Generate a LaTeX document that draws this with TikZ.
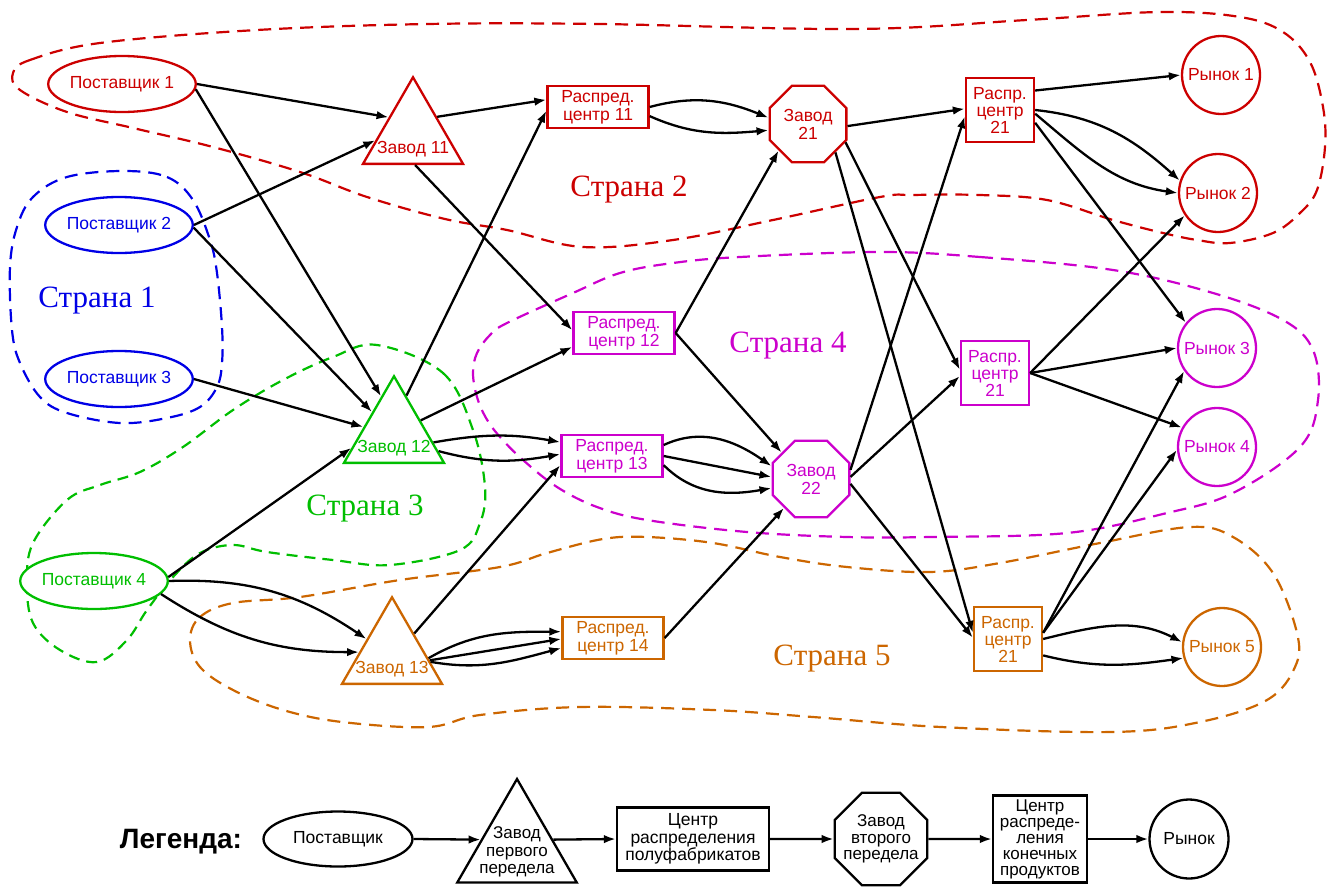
\documentclass[tikz,border=0pt]{standalone}
\usepackage{fontspec}
\setmainfont{Liberation Sans}
\newfontfamily\cserif{Liberation Serif}
\usetikzlibrary{shapes.geometric,arrows.meta}
\definecolor{cred}{RGB}{204,0,0}
\definecolor{cblue}{RGB}{0,0,230}
\definecolor{cgreen}{RGB}{0,190,0}
\definecolor{cmag}{RGB}{204,0,204}
\definecolor{corange}{RGB}{204,102,0}
\begin{document}
\begin{tikzpicture}[x=1pt,y=1pt,
  every node/.style={font=\fontsize{17.5}{18}\selectfont, line width=2.3pt, inner sep=0pt},
  supp/.style={ellipse, draw, fill=white, minimum width=128pt, minimum height=56pt},
  tri/.style={regular polygon, regular polygon sides=3, draw, fill=white, minimum size=115.5pt},
  oct/.style={regular polygon, regular polygon sides=8, draw, fill=white, minimum size=83pt, align=center},
  dc/.style={rectangle, draw, fill=white, minimum width=101pt, minimum height=42pt, align=center},
  fdc/.style={rectangle, draw, fill=white, minimum width=68pt, minimum height=64pt, align=center, font=\fontsize{17.5}{17}\selectfont},
  mkt/.style={circle, draw, fill=white, minimum size=78pt},
  link/.style={draw=black, line width=2.3pt, -{Latex[length=12pt,width=8.5pt]}},
  region/.style={line width=2.2pt, dash pattern=on 13pt off 8pt},
  country/.style={font=\cserif\fontsize{31}{31}\selectfont, anchor=base},
]
\useasboundingbox (0,0) rectangle (1335,-886);

% ---- country regions
\draw[region, draw=cred] plot[smooth cycle, tension=0.6] coordinates {
 (13,-73) (30,-60) (100,-43) (257,-30) (428,-24) (599,-24) (856,-29) (1027,-20) (1160,-12) (1240,-17) (1283,-32) (1310,-62) (1323,-107) (1325,-147) (1317,-190) (1300,-213) (1273,-233) (1230,-243) (1197,-240) (1163,-233) (1113,-220) (1047,-200) (980,-195) (913,-195) (880,-197) (773,-220) (673,-240) (583,-247) (507,-230) (445,-219) (367,-197) (300,-172) (213,-147) (133,-128) (67,-112) (20,-90)};
\draw[region, draw=cblue] plot[smooth cycle, tension=0.6] coordinates {
 (123,-171) (167,-177) (193,-200) (210,-240) (217,-273) (222,-327) (222,-363) (217,-387) (200,-407) (167,-418) (120,-423) (67,-413) (40,-397) (20,-363) (12,-330) (10,-267) (17,-227) (33,-197) (67,-177)};
\draw[region, draw=cgreen, dash pattern=on 11pt off 7pt] plot[smooth cycle, tension=0.6] coordinates {
 (377,-345) (443,-373) (473,-430) (485,-487) (480,-523) (460,-550) (390,-565) (333,-560) (267,-552) (233,-545) (200,-553) (173,-577) (147,-610) (127,-640) (97,-662) (60,-650) (33,-623) (27,-583) (33,-543) (67,-500) (100,-485) (140,-472) (183,-447) (233,-410) (283,-380) (333,-357)};
\draw[region, draw=cmag] plot[smooth cycle, tension=0.6] coordinates {
 (880,-252) (980,-257) (1113,-270) (1213,-293) (1283,-320) (1313,-350) (1318,-400) (1300,-447) (1233,-493) (1167,-513) (1067,-533) (930,-537) (847,-537) (747,-532) (647,-520) (597,-507) (557,-487) (523,-460) (500,-437) (486,-418) (477,-397) (473,-373) (477,-353) (490,-335) (507,-323) (573,-293) (620,-273) (673,-263) (740,-257)};
\draw[region, draw=corange] plot[smooth cycle, tension=0.6] coordinates {
 (190,-640) (200,-617) (233,-603) (300,-597) (400,-580) (500,-567) (547,-553) (603,-539) (647,-537) (713,-543) (780,-557) (847,-567) (930,-572) (1000,-563) (1100,-543) (1190,-527) (1233,-537) (1273,-573) (1297,-633) (1295,-667) (1267,-700) (1200,-722) (1112,-732) (941,-727) (813,-717) (713,-710) (580,-707) (480,-715) (428,-727) (342,-722) (283,-710) (233,-690) (200,-667)};

% ---- country labels
\node[country, text=cblue] (C1) at (97,-307) {Страна 1};
\node[country, text=cred] (C2) at (629,-196) {Страна 2};
\node[country, text=cgreen] (C3) at (365,-515) {Страна 3};
\node[country, text=cmag] (C4) at (788,-352) {Страна 4};
\node[country, text=corange] (C5) at (832,-665) {Страна 5};

% ---- suppliers
\node[supp, draw=cred, text=cred] (P1) at (122,-84) {Поставщик 1};
\node[supp, draw=cblue, text=cblue] (P2) at (119,-225) {Поставщик 2};
\node[supp, draw=cblue, text=cblue] (P3) at (119,-379) {Поставщик 3};
\node[supp, draw=cgreen, text=cgreen] (P4) at (94,-581) {Поставщик 4};

% ---- first-stage plants
\node[tri, draw=cred] (Z11) at (413,-135) {};
\node[text=cred] (Z11t) at (413,-149) {Завод 11};
\node[tri, draw=cgreen] (Z12) at (394,-434) {};
\node[text=cgreen] (Z12t) at (394,-448) {Завод 12};
\node[tri, draw=corange] (Z13) at (392,-655) {};
\node[text=corange] (Z13t) at (392,-669) {Завод 13};

% ---- semi-product distribution centres
\node[dc, draw=cred, text=cred] (R11) at (598,-107) {Распред.\\центр 11};
\node[dc, draw=cmag, text=cmag] (R12) at (624,-333) {Распред.\\центр 12};
\node[dc, draw=cmag, text=cmag] (R13) at (612,-456) {Распред.\\центр 13};
\node[dc, draw=corange, text=corange] (R14) at (613,-638) {Распред.\\центр 14};

% ---- second-stage plants
\node[oct, draw=cred, text=cred] (Z21) at (808,-124) {Завод\\21};
\node[oct, draw=cmag, text=cmag] (Z22) at (811,-479) {Завод\\22};

% ---- final distribution centres
\node[fdc, draw=cred, text=cred] (D21a) at (1000,-110) {Распр.\\центр\\21};
\node[fdc, draw=cmag, text=cmag] (D21b) at (995,-373) {Распр.\\центр\\21};
\node[fdc, draw=corange, text=corange] (D21c) at (1008,-639) {Распр.\\центр\\21};

% ---- markets
\node[mkt, draw=cred, text=cred] (M1) at (1221,-75) {Рынок 1};
\node[mkt, draw=cred, text=cred] (M2) at (1218,-193) {Рынок 2};
\node[mkt, draw=cmag, text=cmag] (M3) at (1217,-348) {Рынок 3};
\node[mkt, draw=cmag, text=cmag] (M4) at (1217,-447) {Рынок 4};
\node[mkt, draw=corange, text=corange] (M5) at (1222,-647) {Рынок 5};

% ---- connectors
\draw[link] (P1.east) -- (Z11.144);
\draw[link] (P1.-4) -- (Z12.109);
\draw[link] (P2.east) -- (Z11.188);
\draw[link] (P2.-2) -- (Z12.135);
\draw[link] (P3.east) -- (Z12.167);
\draw[link] (P4.3) -- (Z12.198);
\draw[link] (P4.east) to[out=2,in=146] (Z13.148);
\draw[link] (P4.-11) to[out=-33,in=180] (Z13.175);
\draw[link] (Z11.37) -- (R11.172);
\draw[link] (Z11.-86) -- (R12.177);
\draw[link] (Z12.72) -- (R11.184);
\draw[link] (Z12.27) -- (R12.195);
\draw[link] (Z12.-12) to[out=10,in=170] (R13.165);
\draw[link] (Z12.-21) to[out=-15,in=190] (R13.178);
\draw[link] (Z13.44) -- (R13.190);
\draw[link] (Z13.-5) to[out=30,in=180] (R14.173);
\draw[link] (Z13.-8) -- (R14.181);
\draw[link] (Z13.-10) to[out=-10,in=195] (R14.191);
\draw[link] (R11.east) to[out=15,in=158] (Z21.171);
\draw[link] (R11.-10) to[out=-24,in=185] (Z21.189);
\draw[link] (R12.east) -- (Z21.222);
\draw[link] (R12.east) -- (Z22.138);
\draw[link] (R13.12) to[out=25,in=145] (Z22.162);
\draw[link] (R13.east) -- (Z22.177);
\draw[link] (R13.-10) to[out=-45,in=190] (Z22.193);
\draw[link] (R14.east) -- (Z22.227);
\draw[link] (Z21.-3) -- (D21a.178);
\draw[link] (Z21.-26) -- (D21b.175);
\draw[link] (Z21.-46) -- (D21c.170);
\draw[link] (Z22.13) -- (D21a.190);
\draw[link] (Z22.3) -- (D21b.185);
\draw[link] (Z22.-7) -- (D21c.178);
\draw[link] (D21a.29) -- (M1.180);
\draw[link] (D21a.east) to[out=-6,in=138] (M2.162);
\draw[link] (D21a.-6) to[out=-40,in=172] (M2.180);
\draw[link] (D21a.-20) -- (M3.141);
\draw[link] (D21b.east) -- (M2.214);
\draw[link] (D21b.east) -- (M3.180);
\draw[link] (D21b.east) -- (M4.151);
\draw[link] (D21c.10) -- (M3.215);
\draw[link] (D21c.10) -- (M4.184);
\draw[link] (D21c.east) to[out=14,in=153] (M5.173);
\draw[link] (D21c.-25) to[out=-14,in=188] (M5.196);

% ---- legend
\node[font=\bfseries\fontsize{28}{28}\selectfont, anchor=base] (LG) at (181,-848) {Легенда:};
\node[supp, minimum width=149pt, minimum height=55pt] (L1) at (338,-839) {Поставщик};
\node[tri, minimum size=138pt] (L2) at (517,-848) {};
\node[align=center, font=\fontsize{17}{17.5}\selectfont] (L2t) at (517,-852) {Завод\\первого\\передела};
\node[dc, minimum width=152pt, minimum height=63pt, font=\fontsize{17.5}{17.5}\selectfont] (L3) at (693,-839) {Центр\\распределения\\полуфабрикатов};
\node[oct, minimum size=100pt, inner sep=-12pt, font=\fontsize{17}{16.5}\selectfont] (L4) at (881,-839) {Завод\\второго\\передела};
\node[fdc, minimum width=94pt, minimum height=87pt, font=\fontsize{17}{16}\selectfont] (L5) at (1040,-839) {Центр\\распреде-\\ления\\конечных\\продуктов};
\node[mkt, minimum size=79pt] (L6) at (1189,-839) {Рынок};
\draw[link] (L1.east) -- (L2.167);
\draw[link] (L2.13) -- (L3.west);
\draw[link] (L3.east) -- (L4.west);
\draw[link] (L4.east) -- (L5.west);
\draw[link] (L5.east) -- (L6.west);
\end{tikzpicture}
\end{document}
